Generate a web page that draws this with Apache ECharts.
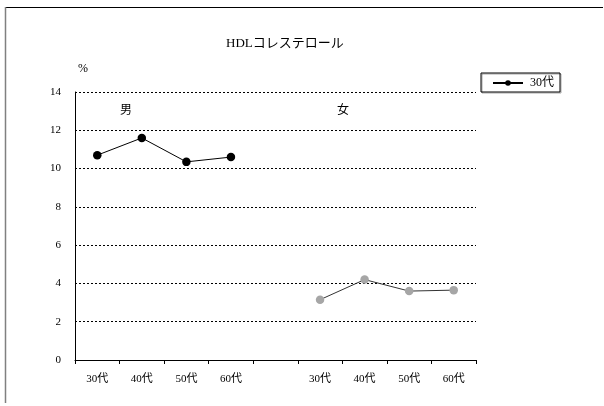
<!DOCTYPE html>
<html><head><meta charset="utf-8">
<script src="https://cdn.jsdelivr.net/npm/echarts@6/dist/echarts.min.js"></script>
<style>html,body{margin:0;padding:0;background:#fff}#c{width:604px;height:406px}</style>
</head><body><div id="c"></div>
<script>
const categories = ['30代','40代','50代','60代','','30代','40代','50代','60代'];
const maleValues = [10.7, 11.6, 10.35, 10.6, null, null, null, null, null];
const femaleValues = [null, null, null, null, null, 3.15, 4.2, 3.6, 3.65];
const yTicks = [0, 2, 4, 6, 8, 10, 12, 14];
const FONT = "'Liberation Serif','DejaVu Serif','Noto Sans CJK JP',serif";
const chart = echarts.init(document.getElementById('c'));
chart.setOption({
  animation: false,
  backgroundColor: '#fff',
  textStyle: { fontFamily: FONT, color: '#000' },
  title: {
    text: 'HDLコレステロール', left: 221, top: 32,
    textStyle: { fontFamily: FONT, fontSize: 13, fontWeight: 'normal', color: '#000' }
  },
  legend: {
    data: ['30代'], left: 481, top: 73,
    orient: 'vertical',
    padding: [4, 6, 3, 11],
    borderColor: '#000', borderWidth: 1,
    shadowColor: 'rgba(0,0,0,0.35)', shadowBlur: 0, shadowOffsetX: 1, shadowOffsetY: 1,
    itemWidth: 30, itemHeight: 7, itemGap: 4,
    textStyle: { fontFamily: FONT, fontSize: 12, color: '#000', padding: [0, 0, 0, 2] }
  },
  grid: { left: 75, right: 128, top: 92, bottom: 46 },
  xAxis: {
    type: 'category', data: categories, boundaryGap: true,
    axisLine: { lineStyle: { color: '#000', width: 1 } },
    axisTick: { show: true, length: 4, inside: false, lineStyle: { color: '#000' } },
    axisLabel: { fontFamily: FONT, fontSize: 11, color: '#000', margin: 14, interval: 0 }
  },
  yAxis: {
    type: 'value', min: yTicks[0], max: yTicks[yTicks.length - 1], interval: 2,
    name: '%', nameLocation: 'end', nameGap: 17,
    nameTextStyle: { fontFamily: FONT, fontSize: 12, color: '#000', align: 'left', padding: [0, 0, 0, 3] },
    axisLine: { show: true, lineStyle: { color: '#000', width: 1 } },
    axisTick: { show: false },
    axisLabel: { fontFamily: FONT, fontSize: 11, color: '#000', margin: 14 },
    splitLine: { show: true, lineStyle: { color: '#000', type: [2, 2], width: 1 } }
  },
  graphic: [
    { type: 'line', shape: { x1: 5, y1: 7.5, x2: 603, y2: 7.5 }, style: { stroke: '#000', lineWidth: 1.2 }, silent: true },
    { type: 'line', shape: { x1: 5.5, y1: 7, x2: 5.5, y2: 403 }, style: { stroke: '#808080', lineWidth: 1.5 }, silent: true },
    { type: 'text', left: 120, top: 105, style: { text: '男', font: "12px " + FONT, fill: '#000' } },
    { type: 'text', left: 337, top: 105, style: { text: '女', font: "12px " + FONT, fill: '#000' } }
  ],
  series: [
    {
      name: '30代', type: 'line', data: maleValues,
      symbol: 'circle', symbolSize: 8.5, connectNulls: false,
      itemStyle: { color: '#000' },
      lineStyle: { color: '#000', width: 1 }
    },
    {
      name: '女性', type: 'line', data: femaleValues,
      symbol: 'circle', symbolSize: 8.5, connectNulls: false,
      itemStyle: { color: '#a6a6a6' },
      lineStyle: { color: '#333', width: 1 }
    }
  ]
});
</script></body></html>
